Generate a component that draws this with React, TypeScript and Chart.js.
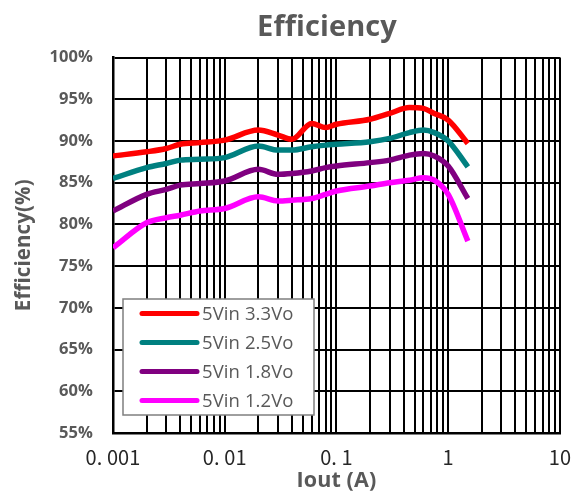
import React, { useEffect, useRef } from "react";
import { Chart, registerables } from "chart.js";

Chart.register(...registerables);

const iout = [0.001, 0.002, 0.003, 0.004, 0.006, 0.01, 0.02, 0.03, 0.04, 0.06, 0.08, 0.1, 0.2, 0.3, 0.45, 0.6, 0.75, 1, 1.5];
const eff33 = [88.2, 88.7, 89.1, 89.6, 89.8, 90.1, 91.3, 90.7, 90.2, 92.1, 91.6, 92.0, 92.6, 93.3, 94.0, 93.9, 93.3, 92.5, 89.7];
const eff25 = [85.5, 86.8, 87.3, 87.7, 87.8, 88.0, 89.4, 88.9, 88.9, 89.3, 89.5, 89.6, 89.9, 90.3, 91.0, 91.3, 91.0, 90.0, 86.9];
const eff18 = [81.6, 83.6, 84.2, 84.7, 84.9, 85.2, 86.6, 86.0, 86.1, 86.4, 86.8, 87.0, 87.4, 87.7, 88.3, 88.5, 88.2, 87.0, 83.1];
const eff12 = [77.2, 80.2, 80.8, 81.1, 81.6, 81.9, 83.3, 82.8, 82.9, 83.1, 83.6, 84.0, 84.6, 85.0, 85.3, 85.6, 85.3, 83.6, 78.0];

const seriesLabels = ["5Vin 3.3Vo", "5Vin 2.5Vo", "5Vin 1.8Vo", "5Vin 1.2Vo"];
const seriesColors = ["#FF0000", "#008080", "#800080", "#FF00FF"];

const xDecades = [0.001, 0.01, 0.1, 1, 10];
const xTickLabels = ["0. 001", "0. 01", "0. 1", "1", "10"];
const minorMultipliers = [1, 2, 3, 4, 5, 6, 7, 8, 9];
const yMin = 55;
const yMax = 100;
const yStep = 5;

const chartTitle = "Efficiency";
const yTitle = "Efficiency(%)";
const xTitle = "Iout (A)";

const GRAY = "#595959";
const FONT = "'Open Sans'";

const noLigaturePlugin = {
  id: "noLigatures",
  beforeDraw(chart: any) {
    try {
      chart.ctx.letterSpacing = "0.1px";
    } catch (e) {}
  },
};

const titlePlugin = {
  id: "customTitle",
  afterDraw(chart: any) {
    const ctx = chart.ctx;
    ctx.save();
    ctx.font = "bold 29px " + FONT;
    ctx.fillStyle = GRAY;
    ctx.textAlign = "center";
    ctx.textBaseline = "middle";
    ctx.fillText(chartTitle, 327, 28);
    ctx.restore();
  },
};

const legendPlugin = {
  id: "boxLegend",
  afterDraw(chart: any) {
    const ctx = chart.ctx;
    const area = chart.chartArea;
    const left = area.left + 10;
    const w = 191;
    const h = 116;
    const top = area.bottom - 18 - h;
    ctx.save();
    ctx.fillStyle = "#FFFFFF";
    ctx.fillRect(left, top, w, h);
    ctx.strokeStyle = "#7F7F7F";
    ctx.lineWidth = 1.5;
    ctx.strokeRect(left, top, w, h);
    chart.data.datasets.forEach((ds: any, i: number) => {
      const y = top + 14.5 + i * 29;
      ctx.strokeStyle = ds.borderColor;
      ctx.lineWidth = 5;
      ctx.lineCap = "round";
      ctx.beginPath();
      ctx.moveTo(left + 19, y);
      ctx.lineTo(left + 74, y);
      ctx.stroke();
      ctx.fillStyle = GRAY;
      ctx.font = "18.5px " + FONT;
      ctx.textAlign = "left";
      ctx.textBaseline = "middle";
      ctx.fillText(ds.label, left + 79, y + 1);
    });
    ctx.restore();
  },
};

export default function App() {
  const ref = useRef<HTMLCanvasElement | null>(null);

  useEffect(() => {
    if (!ref.current) return;
    const allSeries = [eff33, eff25, eff18, eff12];
    const xTicks: number[] = [];
    xDecades.slice(0, -1).forEach((d) => minorMultipliers.forEach((m) => xTicks.push(+(m * d).toPrecision(6))));
    xTicks.push(xDecades[xDecades.length - 1]);

    const chart = new Chart(ref.current, {
      type: "line",
      data: {
        datasets: allSeries.map((vals, i) => ({
          label: seriesLabels[i],
          data: iout.map((x, j) => ({ x, y: vals[j] })),
          borderColor: seriesColors[i],
          backgroundColor: seriesColors[i],
          borderWidth: 5.5,
          pointRadius: 0,
          tension: 0.3,
          cubicInterpolationMode: "monotone",
          fill: false,
        })),
      },
      plugins: [noLigaturePlugin, titlePlugin, legendPlugin],
      options: {
        responsive: false,
        animation: false,
        layout: { padding: { left: 0, right: 22, top: 57.5, bottom: 0 } },
        plugins: {
          legend: { display: false },
          title: { display: false },
          tooltip: { enabled: false },
        },
        scales: {
          x: {
            type: "logarithmic",
            min: xDecades[0],
            max: xDecades[xDecades.length - 1],
            afterFit(scale: any) {
              scale.height = 60;
            },
            afterBuildTicks(scale: any) {
              scale.ticks = xTicks.map((v) => ({ value: v }));
            },
            grid: { color: "#000000", lineWidth: 2, drawTicks: false },
            border: { display: true, color: "#000000", width: 2.5 },
            ticks: {
              autoSkip: false,
              maxRotation: 0,
              padding: 12,
              color: "#262626",
              font: { family: "'Noto Sans CJK SC'", size: 20 },
              callback(value: any) {
                const idx = xDecades.findIndex((d) => Math.abs(d - value) < d * 1e-6);
                return idx >= 0 ? xTickLabels[idx] : "";
              },
            },
            title: {
              display: true,
              text: xTitle,
              color: GRAY,
              font: { family: FONT, size: 21.5, weight: "bold" },
              padding: { top: 0, bottom: -1 },
            },
          },
          y: {
            min: yMin,
            max: yMax,
            afterFit(scale: any) {
              scale.width = 113;
            },
            grid: { color: "#000000", lineWidth: 2, drawTicks: false },
            border: { display: true, color: "#000000", width: 2.5 },
            ticks: {
              stepSize: yStep,
              padding: 20,
              color: GRAY,
              font: { family: FONT, size: 16.5, weight: "bold" },
              callback: (v: any) => v + "%",
            },
            title: {
              display: true,
              text: yTitle,
              color: GRAY,
              font: { family: FONT, size: 20.5, weight: "bold" },
              padding: { top: 12, bottom: 0 },
            },
          },
        },
      } as any,
    });
    return () => chart.destroy();
  }, []);

  return (
    <div style={{ position: "fixed", left: 0, top: 0, width: 583, height: 493, background: "#fff" }}>
      <canvas ref={ref} width={583} height={493} style={{ display: "block" }} />
    </div>
  );
}
